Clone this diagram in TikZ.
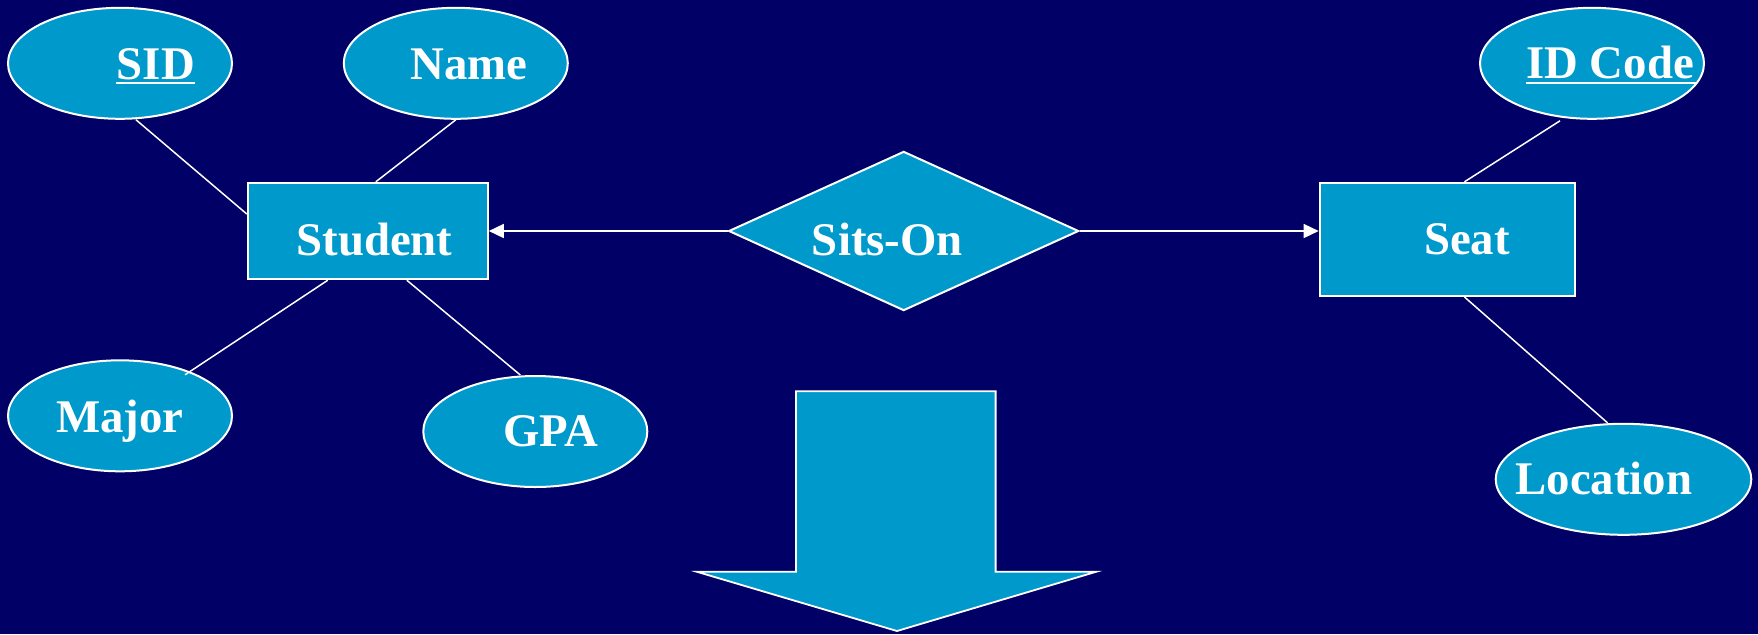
\documentclass[tikz,border=0pt]{standalone}
\usepackage{fontspec}
\setmainfont{Liberation Serif}
\usetikzlibrary{shapes.geometric,arrows.meta,calc}
\definecolor{slidebg}{RGB}{0,0,102}
\definecolor{erfill}{RGB}{0,153,204}
\begin{document}
\begin{tikzpicture}[x=0.5pt,y=-0.5pt,
  attr/.style={ellipse,draw=white,line width=1pt,fill=erfill,inner sep=0pt,
    minimum width=112pt,minimum height=55.5pt},
  entity/.style={rectangle,draw=white,line width=1pt,fill=erfill,inner sep=0pt},
  rel/.style={diamond,draw=white,line width=1pt,fill=erfill,inner sep=0pt,
    minimum width=175pt,minimum height=79.6pt},
  lbl/.style={text=white,font=\bfseries\fontsize{23.4}{28}\selectfont,
    inner sep=0pt,anchor=base},
  link/.style={draw=white,line width=0.75pt},
  keyline/.style={draw=white,line width=1.3pt},
  tip/.style={-{Triangle[length=7.5pt,width=7pt]}}]

% background
\fill[slidebg] (0,0) rectangle (1758,634);
\useasboundingbox (0,0) rectangle (1758,634);

% entities, relationship and attributes
\node[attr] (sid) at (120,63.3) {};
\node[attr] (name) at (455.8,63.3) {};
\node[entity,minimum width=120pt,minimum height=48.2pt] (stu) at (367.8,231) {};
\node[rel] (sits) at (903.7,231) {};
\node[entity,minimum width=127.8pt,minimum height=56.6pt] (seat) at (1447.5,239.4) {};
\node[attr] (idc) at (1592,63.3) {};
\node[attr,minimum width=127.8pt] (loc) at (1623.5,479.3) {};
\node[attr] (major) at (120,415.8) {};
\node[attr] (gpa) at (535.3,431.5) {};

% labels
\node[lbl] (sidt) at (155.8,79) {SID};
\node[lbl] (namet) at (468.7,79) {Name};
\node[lbl] (stut) at (374.5,255) {Student};
\node[lbl] (sitst) at (887.4,255) {Sits-On};
\node[lbl] (seatt) at (1467,254) {Seat};
\node[lbl] (idct) at (1610,78) {ID Code};
\node[lbl] (loct) at (1603.9,494.5) {Location};
\node[lbl] (majort) at (120,432) {Major};
\node[lbl] (gpat) at (551,446.5) {GPA};

% key underlines
\draw[keyline] ($(sidt.base west)+(0,4)$) -- ($(sidt.base east)+(0,4)$);
\draw[keyline] ($(idct.base west)+(0,5)$) -- ($(idct.base east)+(3,5)$);

% attribute links
\draw[link] ($(sid.south)+(16,0)$) -- ($(stu.west)+(0,-17)$);
\draw[link] (name.south) -- ($(stu.north)+(8,0)$);
\draw[link] ($(stu.south)+(-40,0)$) -- ($(major.center)+(65,-41)$);
\draw[link] ($(stu.south)+(39,0)$) -- ($(gpa.north)+(-15,0)$);
\draw[link] ($(seat.north)+(17,0)$) -- ($(idc.south)+(-32,1)$);
\draw[link] ($(seat.south)+(17,0)$) -- ($(loc.north)+(-16,0)$);

% relationship links
\draw[link,tip] (sits.west) -- (sits.west -| stu.east);
\draw[link,tip] (sits.east) -- (sits.east -| seat.west);

% big downward arrow
\draw[white,line width=0.9pt,fill=erfill,line join=miter]
  (796,391.3) -- (995.6,391.3) -- (995.6,571.8) -- (1096,571.8)
  -- (897,631) -- (697,571.8) -- (796,571.8) -- cycle;
\end{tikzpicture}
\end{document}
